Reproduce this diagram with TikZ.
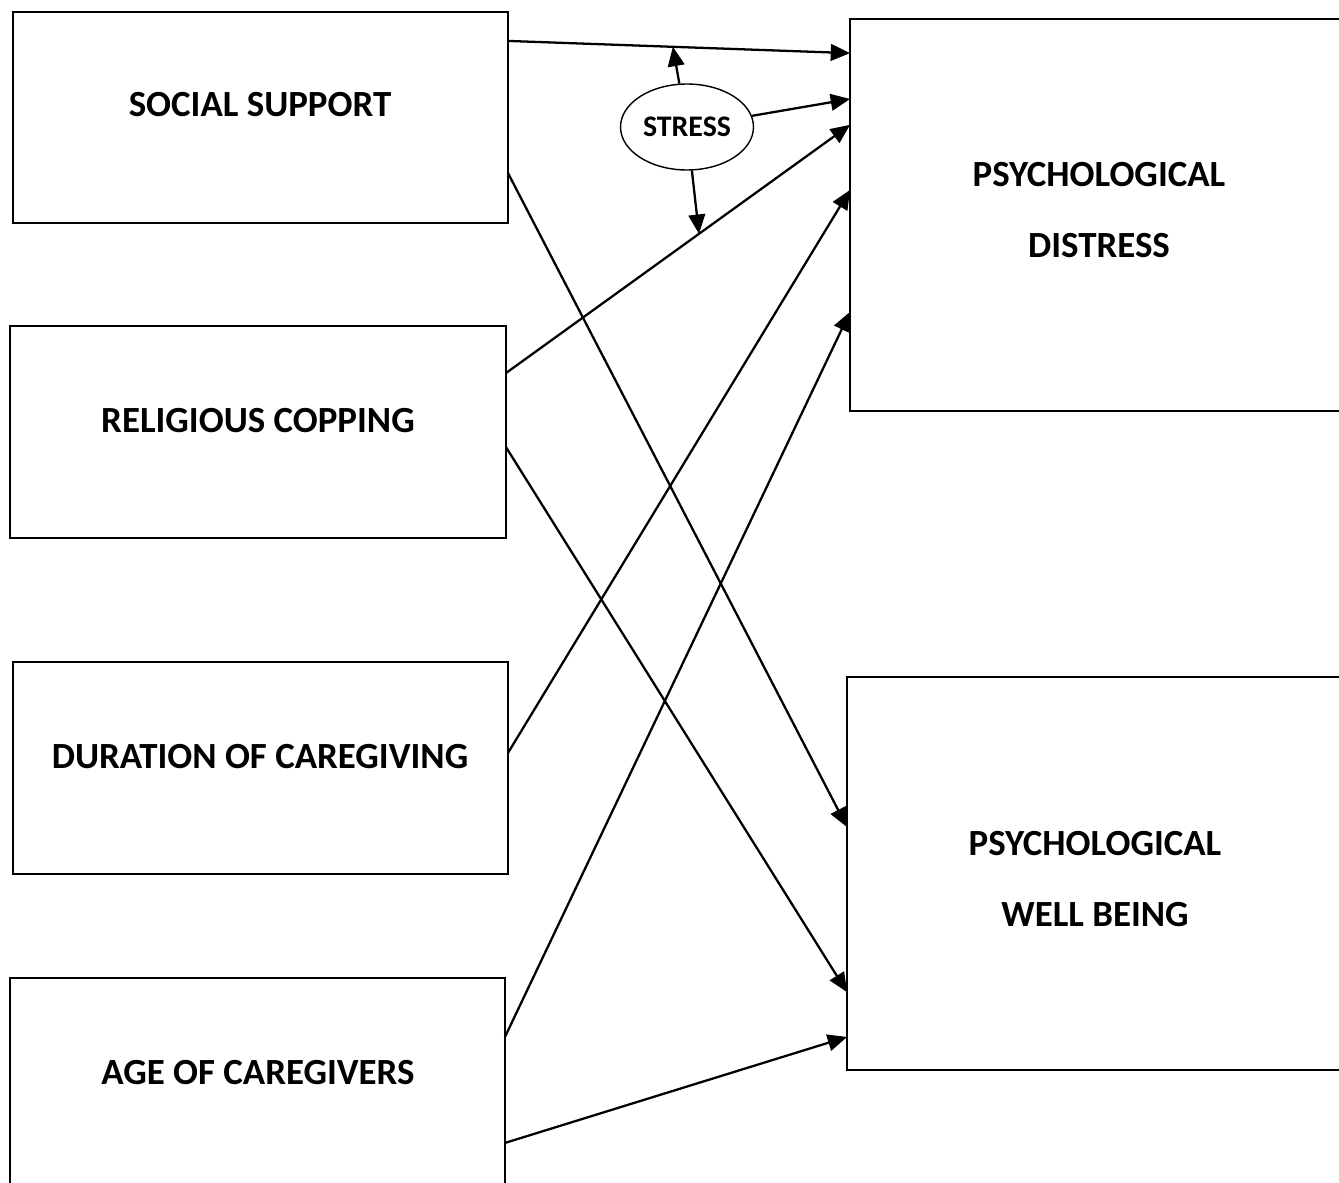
\documentclass[tikz,border=0pt]{standalone}
\usepackage{fontspec}
\setmainfont{Carlito}
\usepackage{tikz}
\usetikzlibrary{arrows.meta, shapes.geometric, calc}

\begin{document}
\begin{tikzpicture}[x=0.02cm, y=-0.02cm,
		caja/.style={draw, rectangle, line width=0.9pt, inner sep=0pt, outer sep=0pt},
		texto/.style={font=\fontsize{21}{40}\selectfont\bfseries, align=center},
		flecha/.style={line width=1.3pt, -{Triangle[length=11pt, width=9.5pt]}}]
			% Marco de la figura
			\useasboundingbox (0,0) rectangle (1339,1183);
			\clip (0,0) rectangle (1339,1183);

			% Dibujar las cajas de la izquierda
			\node[caja, minimum width=9.9cm, minimum height=4.22cm] (ss) at (260.5,117.5) {};
			\node[caja, minimum width=9.92cm, minimum height=4.24cm] (rc) at (258,432) {};
			\node[caja, minimum width=9.9cm, minimum height=4.24cm] (dc) at (260.5,768) {};
			\node[caja, minimum width=9.9cm, minimum height=4.24cm] (ac) at (257.5,1084) {};
			\node[texto] (tss) at (260,105) {SOCIAL SUPPORT};
			\node[texto] (trc) at (258,421) {RELIGIOUS COPPING};
			\node[texto] (tdc) at (260,757) {DURATION OF CAREGIVING};
			\node[texto] (tac) at (258,1073) {AGE OF CAREGIVERS};

			% Dibujar las cajas de la derecha
			\node[caja, minimum width=10cm, minimum height=7.84cm] (pd) at (1100,215) {};
			\node[caja, minimum width=9.96cm, minimum height=7.86cm] (wb) at (1096,873.5) {};
			\node[texto] (tpd) at (1099,210) {PSYCHOLOGICAL\\DISTRESS};
			\node[texto] (twb) at (1095,879) {PSYCHOLOGICAL\\WELL BEING};

			% Dibujar el estres
			\node[draw, ellipse, line width=0.8pt, inner sep=0pt, minimum width=2.66cm, minimum height=1.72cm,
				font=\fontsize{17}{20}\selectfont\bfseries] (st) at (687,127) {STRESS};

			% Dibujar las flechas
			\draw[flecha] ($(ss.north east)!0.137!(ss.south east)$) -- coordinate[pos=0.482] (m1) ($(pd.north west)!0.087!(pd.south west)$);
			\draw[flecha] ($(rc.north east)!0.222!(rc.south east)$) -- coordinate[pos=0.561] (m5) ($(pd.north west)!0.27!(pd.south west)$);
			\draw[flecha] ($(dc.north east)!0.429!(dc.south east)$) -- ($(pd.north west)!0.436!(pd.south west)$);
			\draw[flecha] ($(ac.north east)!0.278!(ac.south east)$) -- ($(pd.north west)!0.747!(pd.south west)$);
			\draw[flecha] ($(ss.north east)!0.763!(ss.south east)$) -- ($(wb.north west)!0.382!(wb.south west)$);
			\draw[flecha] ($(rc.north east)!0.571!(rc.south east)$) -- ($(wb.north west)!0.802!(wb.south west)$);
			\draw[flecha] ($(ac.north east)!0.778!(ac.south east)$) -- ($(wb.north west)!0.916!(wb.south west)$);

			% Flechas del estres
			\draw[flecha] (st) -- (m1);
			\draw[flecha] (st) -- ($(pd.north west)!0.204!(pd.south west)$);
			\draw[flecha] (st) -- (m5);
\end{tikzpicture}
\end{document}
